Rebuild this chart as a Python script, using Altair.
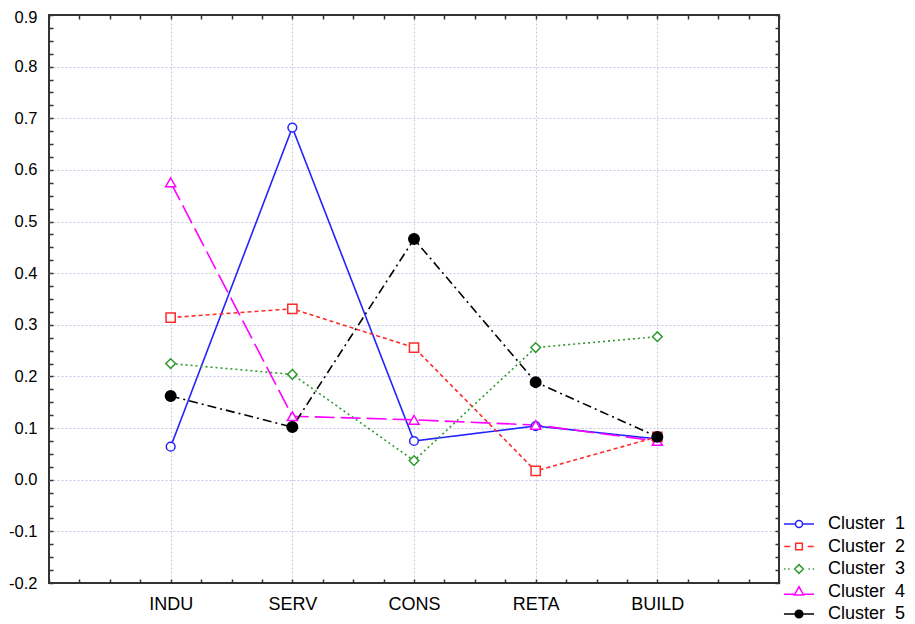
import json
import altair as alt
import pandas as pd

# ---------------- data ----------------
categories = ["INDU", "SERV", "CONS", "RETA", "BUILD"]
clusters = ["Cluster\u00a0 1", "Cluster\u00a0 2", "Cluster\u00a0 3", "Cluster\u00a0 4", "Cluster\u00a0 5"]
cluster1 = [0.064, 0.682, 0.075, 0.104, 0.079]
cluster2 = [0.314, 0.331, 0.256, 0.017, 0.083]
cluster3 = [0.225, 0.204, 0.037, 0.256, 0.277]
cluster4 = [0.576, 0.123, 0.116, 0.106, 0.075]
cluster5 = [0.162, 0.102, 0.466, 0.189, 0.083]
y_tick_labels = ["-0.2", "-0.1", "0.0", "0.1", "0.2", "0.3", "0.4", "0.5", "0.6", "0.7", "0.8", "0.9"]

# ---------------- styles ----------------
FONT = "Liberation Sans"
colors = ["#2323ff", "#ff2b2b", "#2e9a2e", "#ff00ff", "#000000"]
dashes = [[1, 0], [4, 3], [2, 3], [20, 6], [9, 4, 2, 4]]
plot_shapes = ["circle", "square", "diamond", "triangle-up", "circle"]
plot_sizes = [76, 110, 100, 100, 90]
fills = ["#ffffff", "#ffffff", "#ffffff", "#ffffff", "#000000"]
legend_paths = [
    "M-4.3,0L-1,0M1,0L4.3,0M1,0A1,1,0,1,0,-1,0A1,1,0,1,0,1,0Z",
    "M-4.2,0L-2.5,0M2.5,0L4.2,0M-0.95,-0.95L0.95,-0.95L0.95,0.95L-0.95,0.95Z",
    "M-4.3,0L-3.9,0M-3.1,0L-2.7,0M2.7,0L3.1,0M3.9,0L4.3,0M0,-1.25L1.25,0L0,1.25L-1.25,0Z",
    "M-4.3,0.8L-1.2,0.8M1.2,0.8L4.3,0.8M0,-1.4L1.3,1L-1.3,1Z",
    "M-4.3,0L-1.1,0M1.1,0L4.3,0M1.1,0A1.1,1.1,0,1,0,-1.1,0A1.1,1.1,0,1,0,1.1,0Z",
]
FRAME = "#333333"
GRID = "#c4c9e4"

series = [cluster1, cluster2, cluster3, cluster4, cluster5]
rows = []
for name, vals in zip(clusters, series):
    for i, (cat, v) in enumerate(zip(categories, vals)):
        rows.append({"cluster": name, "category": cat, "pos": i + 1, "value": v})
df = pd.DataFrame(rows)

n = len(categories)
x_ticks = [i * 0.25 for i in range(4 * (n + 1) + 1)]
y_ticks = [round(-0.2 + 0.025 * i, 4) for i in range(45)]

x_int_test = f"datum.value >= 1 && datum.value <= {n} && abs(datum.value - round(datum.value)) < 1e-6"
x_label_expr = f"({x_int_test}) ? {json.dumps(categories)}[round(datum.value) - 1] : ''"
y_tenth_test = "abs(datum.value * 10 - round(datum.value * 10)) < 1e-6"
y_label_expr = f"({y_tenth_test}) ? {json.dumps(y_tick_labels)}[round(datum.value * 10) + 2] : ''"
y_grid_test = f"({y_tenth_test}) && datum.value > -0.15 && datum.value < 0.85"

x_scale = alt.Scale(domain=[0, n + 1], nice=False, zero=False)
y_scale = alt.Scale(domain=[-0.2, 0.9], nice=False, zero=False)

common_tick = dict(domain=False, tickSize=4, tickWidth=1.5, tickColor=FRAME, offset=-4, title=None)

x_axis_bottom = alt.Axis(
    orient="bottom", values=x_ticks, labelExpr=x_label_expr, labelPadding=12,
    labelFont=FONT, labelFontSize=18, labelColor="#000000", labelOverlap=False, labelFlush=False,
    grid=True, gridColor=GRID, gridDash=[2, 2], gridWidth=1,
    gridOpacity={"condition": {"test": x_int_test, "value": 1}, "value": 0},
    **common_tick,
)
y_axis_left = alt.Axis(
    orient="left", values=y_ticks, labelExpr=y_label_expr, labelPadding=12,
    labelFont=FONT, labelFontSize=16.5, labelColor="#000000", labelOverlap=False, labelFlush=False,
    labelOffset={"condition": {"test": "datum.value > 0.89", "value": 2.5}, "value": 0},
    grid=True, gridColor=GRID, gridDash=[2, 2], gridWidth=1,
    gridOpacity={"condition": {"test": y_grid_test, "value": 1}, "value": 0},
    **common_tick,
)
x_axis_top = alt.Axis(orient="top", values=x_ticks, labels=False, grid=False, **common_tick)
y_axis_right = alt.Axis(orient="right", values=y_ticks, labels=False, grid=False, **common_tick)

base = alt.Chart(df)

lines = base.mark_line(strokeWidth=1.6).encode(
    x=alt.X("pos:Q", scale=x_scale, axis=x_axis_bottom),
    y=alt.Y("value:Q", scale=y_scale, axis=y_axis_left),
    color=alt.Color("cluster:N", scale=alt.Scale(domain=clusters, range=colors), legend=None),
    strokeDash=alt.StrokeDash("cluster:N", scale=alt.Scale(domain=clusters, range=dashes), legend=None),
)

points = base.mark_point(filled=False, opacity=1, strokeWidth=1.5).encode(
    x=alt.X("pos:Q", scale=x_scale, axis=x_axis_top),
    y=alt.Y("value:Q", scale=y_scale, axis=y_axis_right),
    color=alt.Color("cluster:N", scale=alt.Scale(domain=clusters, range=colors), legend=None),
    shape=alt.Shape("cluster:N", scale=alt.Scale(domain=clusters, range=plot_shapes), legend=None),
    fill=alt.Fill("cluster:N", scale=alt.Scale(domain=clusters, range=fills), legend=None),
    size=alt.Size("cluster:N", scale=alt.Scale(domain=clusters, range=plot_sizes), legend=None),
)

legend_def = dict(
    title=None, orient="none", legendX=741, legendY=500, padding=0,
    symbolSize=49, symbolStrokeWidth=1.5, labelFont=FONT, labelFontSize=18,
    labelColor="#000000", labelOffset=20, rowPadding=4.5,
)

legend_layer = base.transform_filter("false").mark_point(
    filled=False, opacity=1, strokeWidth=1.5, size=49
).encode(
    color=alt.Color("cluster:N", scale=alt.Scale(domain=clusters, range=colors), legend=alt.Legend(**legend_def)),
    shape=alt.Shape("cluster:N", scale=alt.Scale(domain=clusters, range=legend_paths), legend=alt.Legend(**legend_def)),
    fill=alt.Fill("cluster:N", scale=alt.Scale(domain=clusters, range=fills), legend=alt.Legend(**legend_def)),
)

chart = (
    alt.layer(lines, points, legend_layer)
    .resolve_scale(color="independent", shape="independent", fill="independent",
                   size="independent", strokeDash="independent")
    .resolve_axis(x="independent", y="independent")
    .properties(
        width=730, height=568,
        autosize=alt.AutoSizeParams(type="none"),
        padding={"left": 41, "top": 7, "right": 128, "bottom": 41},
        background="#ffffff",
    )
    .configure_view(stroke=FRAME, strokeWidth=2)
)

chart.save("out.html", embed_options={"renderer": "svg", "actions": False})
